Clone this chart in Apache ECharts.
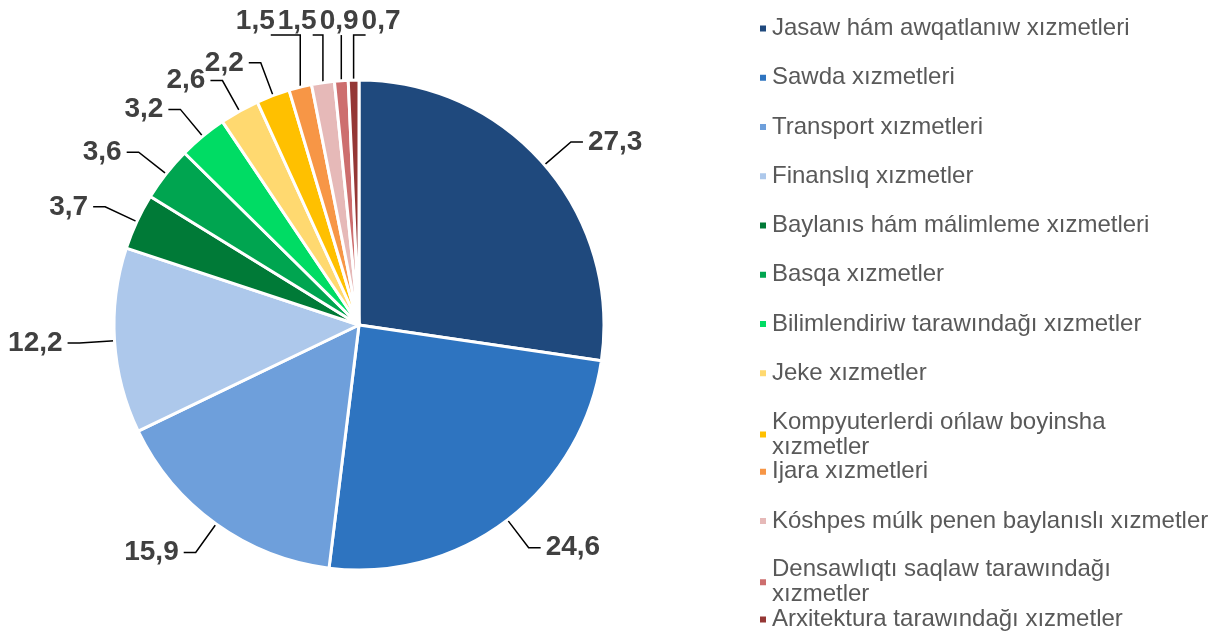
<!DOCTYPE html>
<html>
<head>
<meta charset="utf-8">
<script src="https://cdn.jsdelivr.net/npm/echarts@6/dist/echarts.min.js"></script>
<style>
  html, body { margin: 0; padding: 0; background: #fff; }
  #chart { width: 1211px; height: 631px; }
</style>
</head>
<body>
<div id="chart"></div>
<script>
const categories = [
  'Jasaw hám awqatlanıw xızmetleri',
  'Sawda xızmetleri',
  'Transport xızmetleri',
  'Finanslıq xızmetler',
  'Baylanıs hám málimleme xızmetleri',
  'Basqa xızmetler',
  'Bilimlendiriw tarawındağı xızmetler',
  'Jeke xızmetler',
  'Kompyuterlerdi ońlaw boyinsha xızmetler',
  'Ijara xızmetleri',
  'Kóshpes múlk penen baylanıslı xızmetler',
  'Densawlıqtı saqlaw tarawındağı xızmetler',
  'Arxitektura tarawındağı xızmetler'
]
// legend text as wrapped in the original
const legendLabels = [
  'Jasaw hám awqatlanıw xızmetleri',
  'Sawda xızmetleri',
  'Transport xızmetleri',
  'Finanslıq xızmetler',
  'Baylanıs hám málimleme xızmetleri',
  'Basqa xızmetler',
  'Bilimlendiriw tarawındağı xızmetler',
  'Jeke xızmetler',
  'Kompyuterlerdi ońlaw boyinsha\nxızmetler',
  'Ijara xızmetleri',
  'Kóshpes múlk penen baylanıslı xızmetler',
  'Densawlıqtı saqlaw tarawındağı\nxızmetler',
  'Arxitektura tarawındağı xızmetler'
]
const values = [27.3, 24.6, 15.9, 12.2, 3.7, 3.6, 3.2, 2.6, 2.2, 1.5, 1.5, 0.9, 0.7]
const colors = [
  '#1F497D', '#2E74C0', '#6E9FDB', '#ADC8EB', '#007A37', '#00A550', '#00DC64',
  '#FFD970', '#FFC000', '#F79646', '#E6B9B8', '#CD6E6E', '#953735'
]

const chart = echarts.init(document.getElementById('chart'))

// slices close to 12 o'clock get their labels in a row above the pie
const total = values.reduce((a, b) => a + b, 0)
const topIdx = []
let acc = 0
values.forEach((v, i) => {
  const mid = (acc + v / 2) / total * 360
  if (360 - mid < 15) topIdx.push(i)
  acc += v
})

const legendStep = 49.25
const legends = categories.map((name, i) => ({
  data: [name],
  orient: 'vertical',
  left: 753,
  top: 11 + i * legendStep,
  icon: 'rect',
  itemWidth: 8,
  itemHeight: 8,
  itemGap: 5,
  formatter: n => legendLabels[categories.indexOf(n)],
  textStyle: {
    fontFamily: 'Liberation Sans',
    fontSize: 24,
    color: '#595959',
    lineHeight: 25,
    height: 25
  }
}))

const measured = {}

chart.setOption({
  animation: false,
  color: colors,
  legend: legends,
  series: [{
    type: 'pie',
    center: [359, 325],
    radius: 245,
    startAngle: 90,
    avoidLabelOverlap: false,
    itemStyle: { borderColor: '#fff', borderWidth: 3 },
    emphasis: { scale: false },
    label: {
      position: 'outside',
      fontFamily: 'Liberation Sans',
      fontWeight: 'bold',
      fontSize: 28,
      color: '#404040',
      distanceToLabelLine: 5,
      formatter: p => p.value.toFixed(1).replace('.', ',')
    },
    labelLine: {
      length: 35,
      length2: 12,
      lineStyle: { color: '#000', width: 1.5 }
    },
    labelLayout: p => {
      measured[p.dataIndex] = { pts: p.labelLinePoints, rect: p.labelRect }
      return {}
    },
    data: categories.map((name, i) => ({ name, value: values[i] }))
  }]
})

// pack the top labels from right to left
const placed = {}
let prevLeft = Infinity
topIdx.slice().sort((a, b) => b - a).forEach((idx, k) => {
  const m = measured[idx]
  const x0 = m.pts[0][0]
  const w = m.rect.width
  const left = k === 0 ? x0 + 8 : Math.min(x0 - w / 2, prevLeft - 3 - w)
  prevLeft = left
  placed[idx] = { left, w }
})
const topY = Math.min(...topIdx.map(i => measured[i].pts[0][1])) - 45

chart.setOption({
  series: [{
    labelLayout: p => {
      const pl = placed[p.dataIndex]
      if (!pl) return {}
      const [x0, y0] = p.labelLinePoints[0]
      const xEnd = Math.max(pl.left + 4, Math.min(x0, pl.left + pl.w - 4))
      return {
        x: pl.left,
        y: topY,
        align: 'left',
        verticalAlign: 'bottom',
        labelLinePoints: [[x0, y0], [x0, topY], [xEnd, topY]]
      }
    }
  }]
})

window.addEventListener('resize', () => chart.resize())
</script>
</body>
</html>
